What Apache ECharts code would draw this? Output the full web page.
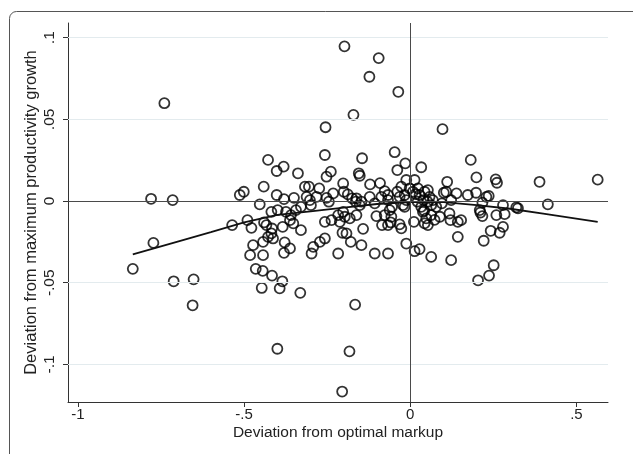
<!DOCTYPE html>
<html>
<head>
<meta charset="utf-8">
<script src="https://cdn.jsdelivr.net/npm/echarts@6/dist/echarts.min.js"></script>
<style>
  html, body { margin: 0; padding: 0; background: #fff; }
  #chart { width: 633px; height: 454px; }
</style>
</head>
<body>
<div id="chart"></div>
<script>
// firm observations: [deviation from optimal markup, deviation from max productivity growth]
var points = [
  [-0.740, 0.0599], [-0.780, 0.0014], [-0.715, 0.0006], [-0.773, -0.0256], [-0.835, -0.0415],
  [-0.712, -0.0491], [-0.652, -0.0479], [-0.655, -0.0638], [-0.536, -0.0147], [-0.513, 0.0037],
  [-0.501, 0.0057],
  [-0.490, -0.0117], [-0.478, -0.0164], [-0.473, -0.0270], [-0.482, -0.0331], [-0.465, -0.0415],
  [-0.444, -0.0427], [-0.447, -0.0532], [-0.443, -0.0331], [-0.443, -0.0250], [-0.453, -0.0020],
  [-0.441, 0.0088], [-0.428, 0.0252], [-0.402, 0.0184], [-0.381, 0.0211], [-0.338, 0.0170],
  [-0.402, 0.0037], [-0.380, 0.0012], [-0.350, 0.0020], [-0.317, 0.0088], [-0.305, 0.0088],
  [-0.312, 0.0026], [-0.302, 0.0006], [-0.299, -0.0025], [-0.440, -0.0131], [-0.418, -0.0066],
  [-0.399, -0.0055], [-0.374, -0.0066], [-0.359, -0.0086], [-0.344, -0.0055], [-0.329, -0.0035],
  [-0.433, -0.0147], [-0.416, -0.0168], [-0.418, -0.0198], [-0.413, -0.0229], [-0.428, -0.0219],
  [-0.384, -0.0158], [-0.362, -0.0117], [-0.352, -0.0137], [-0.329, -0.0178], [-0.378, -0.0253],
  [-0.362, -0.0290], [-0.380, -0.0317], [-0.416, -0.0456], [-0.385, -0.0491], [-0.393, -0.0534],
  [-0.331, -0.0562], [-0.400, -0.0904],
  [-0.292, -0.0280], [-0.297, -0.0321], [-0.272, -0.0250], [-0.257, -0.0229], [-0.217, -0.0321],
  [-0.274, 0.0078], [-0.282, 0.0026], [-0.252, 0.0020], [-0.245, -0.0004], [-0.232, 0.0047],
  [-0.200, 0.0057], [-0.188, 0.0041], [-0.175, 0.0017], [-0.164, -0.0004], [-0.257, -0.0127],
  [-0.237, -0.0117], [-0.217, -0.0086], [-0.202, -0.0066], [-0.197, -0.0096], [-0.212, -0.0127],
  [-0.182, -0.0106], [-0.192, -0.0198], [-0.162, -0.0086], [-0.179, -0.0250], [-0.204, -0.0194],
  [-0.257, 0.0282], [-0.252, 0.0149], [-0.239, 0.0180], [-0.202, 0.0108], [-0.255, 0.0452],
  [-0.198, 0.0947], [-0.171, 0.0528], [-0.145, 0.0262], [-0.155, 0.0170], [-0.152, 0.0155],
  [-0.147, -0.0004], [-0.152, -0.0025], [-0.162, 0.0017], [-0.142, -0.0170], [-0.147, -0.0270],
  [-0.166, -0.0634], [-0.183, -0.0920], [-0.205, -0.1166], [-0.123, 0.0761], [-0.121, 0.0102],
  [-0.122, 0.0026], [-0.107, -0.0014], [-0.102, -0.0092], [-0.107, -0.0321],
  [-0.095, 0.0875], [-0.036, 0.0669], [-0.047, 0.0299], [-0.015, 0.0231], [-0.039, 0.0190],
  [-0.091, 0.0110], [-0.077, 0.0061], [-0.067, 0.0037], [-0.027, 0.0088], [-0.012, 0.0129],
  [-0.039, 0.0057], [-0.032, 0.0026], [-0.017, 0.0037], [-0.012, 0.0006], [-0.002, 0.0078],
  [-0.017, -0.0035], [-0.022, -0.0025], [-0.087, 0.0026], [-0.067, 0.0006], [-0.062, -0.0055],
  [-0.055, -0.0035], [-0.077, -0.0086], [-0.057, -0.0096], [-0.085, -0.0147], [-0.067, -0.0147],
  [-0.059, -0.0131], [-0.032, -0.0143], [-0.027, -0.0167], [-0.067, -0.0321], [-0.012, -0.0260],
  [0.013, 0.0129], [0.033, 0.0207], [0.008, 0.0057], [0.023, 0.0078], [0.028, 0.0037],
  [0.043, 0.0057], [0.053, 0.0067], [0.058, 0.0026], [0.068, 0.0006], [0.063, -0.0025],
  [0.011, -0.0127], [0.038, -0.0066], [0.048, -0.0106], [0.043, -0.0137], [0.053, -0.0147],
  [0.063, -0.0086], [0.073, -0.0115], [0.078, -0.0035], [0.033, -0.0035], [0.095, -0.0014],
  [0.108, 0.0057], [0.111, 0.0118], [0.123, 0.0006], [0.118, -0.0076], [0.121, -0.0117],
  [0.139, 0.0047], [0.143, -0.0127], [0.153, -0.0117], [0.143, -0.0219], [0.013, -0.0307],
  [0.028, -0.0294], [0.063, -0.0342], [0.123, -0.0362], [0.097, 0.0440], [0.016, 0.0043],
  [0.040, 0.0006], [0.022, -0.0004], [0.052, -0.0004], [0.042, -0.0059], [0.089, -0.0096],
  [0.101, 0.0051],
  [0.182, 0.0252], [0.199, 0.0145], [0.173, 0.0037], [0.198, 0.0051], [0.236, 0.0031],
  [0.217, -0.0010], [0.209, -0.0055], [0.211, -0.0070], [0.217, -0.0092], [0.229, 0.0026],
  [0.221, -0.0243], [0.257, 0.0133], [0.261, 0.0112], [0.279, -0.0025], [0.259, -0.0086],
  [0.284, -0.0080], [0.279, -0.0158], [0.269, -0.0194], [0.242, -0.0182], [0.319, -0.0039],
  [0.324, -0.0044], [0.389, 0.0118], [0.414, -0.0020], [0.564, 0.0131], [0.204, -0.0485],
  [0.237, -0.0456], [0.251, -0.0393]
];

// fitted curve
var fitX = [-0.835, -0.7, -0.6, -0.5, -0.4, -0.3, -0.2, -0.1, 0, 0.1, 0.2, 0.3, 0.4, 0.564];
var fitY = [-0.0326, -0.0248, -0.0190, -0.0130, -0.0085, -0.0063, -0.0040, -0.0018, -0.0006, -0.0006, -0.0025, -0.0047, -0.0077, -0.0127];

var xTicks = [-1, -0.5, 0, 0.5];
var xTickLabels = ['-1', '-.5', '0', '.5'];
var yTicks = [-0.1, -0.05, 0, 0.05, 0.1];
var yTickLabels = ['-.1', '-.05', '0', '.05', '.1'];
var yGrid = [-0.1, -0.05, 0.05, 0.1];

var chart = echarts.init(document.getElementById('chart'));

var fitData = fitX.map(function (x, i) { return [x, fitY[i]] });

function tickLabel (ticks, labels) {
  return function (v) {
    for (var i = 0; i < ticks.length; i++) {
      if (Math.abs(ticks[i] - v) < 1e-9) return labels[i];
    }
    return '';
  };
}

var font = "'Liberation Sans', Arial, sans-serif";

chart.setOption({
  animation: false,
  backgroundColor: '#fff',
  graphic: [{
    type: 'rect',
    shape: { x: 9.5, y: 11.5, width: 700, height: 600, r: 7 },
    style: { fill: 'none', stroke: '#555', lineWidth: 1 },
    silent: true
  }],
  grid: { left: 68, right: 25, top: 23, bottom: 52 },
  xAxis: {
    type: 'value',
    min: -1.03,
    max: 0.595,
    name: 'Deviation from optimal markup',
    nameLocation: 'middle',
    nameGap: 23,
    nameMoveOverlap: false,
    nameTextStyle: { color: '#222', fontSize: 15.5, fontFamily: font },
    axisLine: { show: true, onZero: false, lineStyle: { color: '#333', width: 1 } },
    axisTick: { show: true, customValues: xTicks, length: 5, lineStyle: { color: '#333' } },
    axisLabel: {
      customValues: xTicks,
      formatter: tickLabel(xTicks, xTickLabels),
      color: '#222', fontSize: 15, fontFamily: font, margin: 5
    },
    splitLine: { show: false }
  },
  yAxis: {
    type: 'value',
    min: -0.123,
    max: 0.109,
    name: 'Deviation from maximum productivity growth',
    nameLocation: 'middle',
    nameGap: 28,
    nameMoveOverlap: false,
    nameTextStyle: { color: '#222', fontSize: 16.5, fontFamily: font },
    axisLine: { show: true, onZero: false, lineStyle: { color: '#333', width: 1 } },
    axisTick: { show: true, customValues: yTicks, length: 5, lineStyle: { color: '#333' } },
    axisLabel: {
      customValues: yTicks,
      formatter: tickLabel(yTicks, yTickLabels),
      rotate: 90,
      color: '#222', fontSize: 15.5, fontFamily: font, margin: 10
    },
    splitLine: { show: false }
  },
  series: [
    {
      type: 'line',
      data: [],
      silent: true,
      markLine: {
        symbol: 'none',
        silent: true,
        label: { show: false },
        lineStyle: { color: '#e3ebee', width: 1.2, type: 'solid' },
        data: yGrid.map(function (v) { return { yAxis: v } })
      }
    },
    {
      type: 'line',
      data: [],
      silent: true,
      markLine: {
        symbol: 'none',
        silent: true,
        label: { show: false },
        lineStyle: { color: '#4a4a4a', width: 1, type: 'solid' },
        data: [{ yAxis: 0 }, { xAxis: 0 }]
      }
    },
    {
      type: 'scatter',
      data: points,
      symbol: 'circle',
      symbolSize: 10,
      itemStyle: { color: 'rgba(0,0,0,0)', borderColor: '#000', borderWidth: 1.8 },
      z: 3
    },
    {
      type: 'line',
      data: fitData,
      showSymbol: false,
      lineStyle: { color: '#111', width: 1.8 },
      z: 4
    }
  ]
});
</script>
</body>
</html>
